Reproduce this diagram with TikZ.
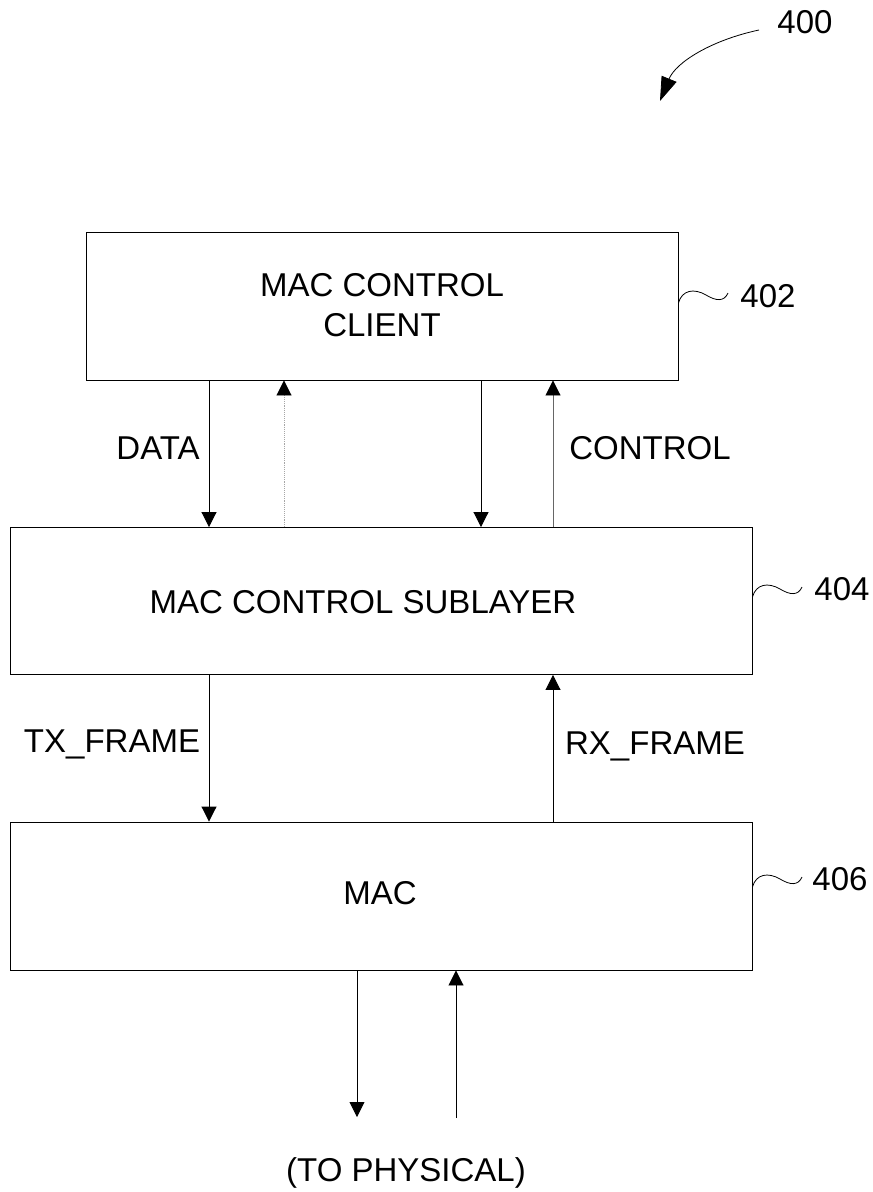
\documentclass[tikz,border=0pt]{standalone}
\usepackage{fontspec}
\setmainfont{Liberation Sans}
\usetikzlibrary{arrows.meta,calc}
\begin{document}
\begin{tikzpicture}[x=1pt,y=-1pt,
  layerbox/.style={draw=black,line width=0.9pt,minimum width=#1,inner sep=0pt},
  lbl/.style={font=\fontsize{33}{39}\selectfont,inner sep=0pt},
  flow/.style={line width=0.9pt,-{Triangle[length=15pt,width=15pt,color=black]}},
  faint/.style={flow,draw=black!35,densely dotted},
  tilde/.style={line width=0.8pt}]
\useasboundingbox (0,0) rectangle (873,1192);

% layer boxes
\node[layerbox=592pt,minimum height=148pt] (client) at (382,306) {};
\node[layerbox=742pt,minimum height=147pt] (sub) at (381,601) {};
\node[layerbox=742pt,minimum height=148pt] (mac) at (381,896) {};

\node[lbl,align=center] (tclient) at (382,305) {MAC CONTROL\\[1pt]CLIENT};
\node[lbl] (tsub) at (363,602) {MAC CONTROL SUBLAYER};
\node[lbl] (tmac) at (380,893) {MAC};

% x positions of the connectors
\coordinate (xa) at (209,0);
\coordinate (xb) at (284,0);
\coordinate (xc) at (481,0);
\coordinate (xd) at (553,0);
\coordinate (xe) at (357,0);
\coordinate (xf) at (456,0);
\coordinate (phyA) at (357,1117);
\coordinate (phyB) at (456,1118);

% client <-> sublayer
\draw[flow] (client.south -| xa) -- (sub.north -| xa);
\draw[faint] (sub.north -| xb) -- (client.south -| xb);
\draw[flow] (client.south -| xc) -- (sub.north -| xc);
\draw[flow,draw=black!60] (sub.north -| xd) -- (client.south -| xd);

% sublayer <-> mac
\draw[flow] (sub.south -| xa) -- (mac.north -| xa);
\draw[flow] (mac.north -| xd) -- (sub.south -| xd);

% mac <-> physical
\draw[flow] (mac.south -| xe) -- (phyA);
\draw[flow] (phyB) -- (mac.south -| xf);

% connector labels
\node[lbl] (ldata) at (158,448) {DATA};
\node[lbl] (lcontrol) at (650,448) {CONTROL};
\node[lbl] (ltx) at (112,744) {TX\_FRAME};
\node[lbl] (lrx) at (655,746) {RX\_FRAME};
\node[lbl] (lphy) at (406,1173) {(TO PHYSICAL)};

% reference numerals
\node[lbl] (n400) at (805,22) {400};
\node[lbl] (n402) at (768,296) {402};
\node[lbl] (n404) at (842,589) {404};
\node[lbl] (n406) at (840,879) {406};

\draw[tilde] (client.east |- 0,303) .. controls (682,290) and (694,288) .. (706,295)
  .. controls (716,301) and (724,302) .. (728,293);
\draw[tilde] (sub.east |- 0,597) .. controls (756,584) and (768,582) .. (780,589)
  .. controls (790,595) and (798,596) .. (802,587);
\draw[tilde] (mac.east |- 0,887) .. controls (756,874) and (768,872) .. (780,879)
  .. controls (790,885) and (798,886) .. (802,877);

\coordinate (a400) at (759,30);
\coordinate (t400) at (660,101);
\draw[line width=0.8pt,-{Triangle[length=24pt,width=16pt]}] (a400)
  .. controls (712,40) and (676,62) .. (t400);
\end{tikzpicture}
\end{document}
